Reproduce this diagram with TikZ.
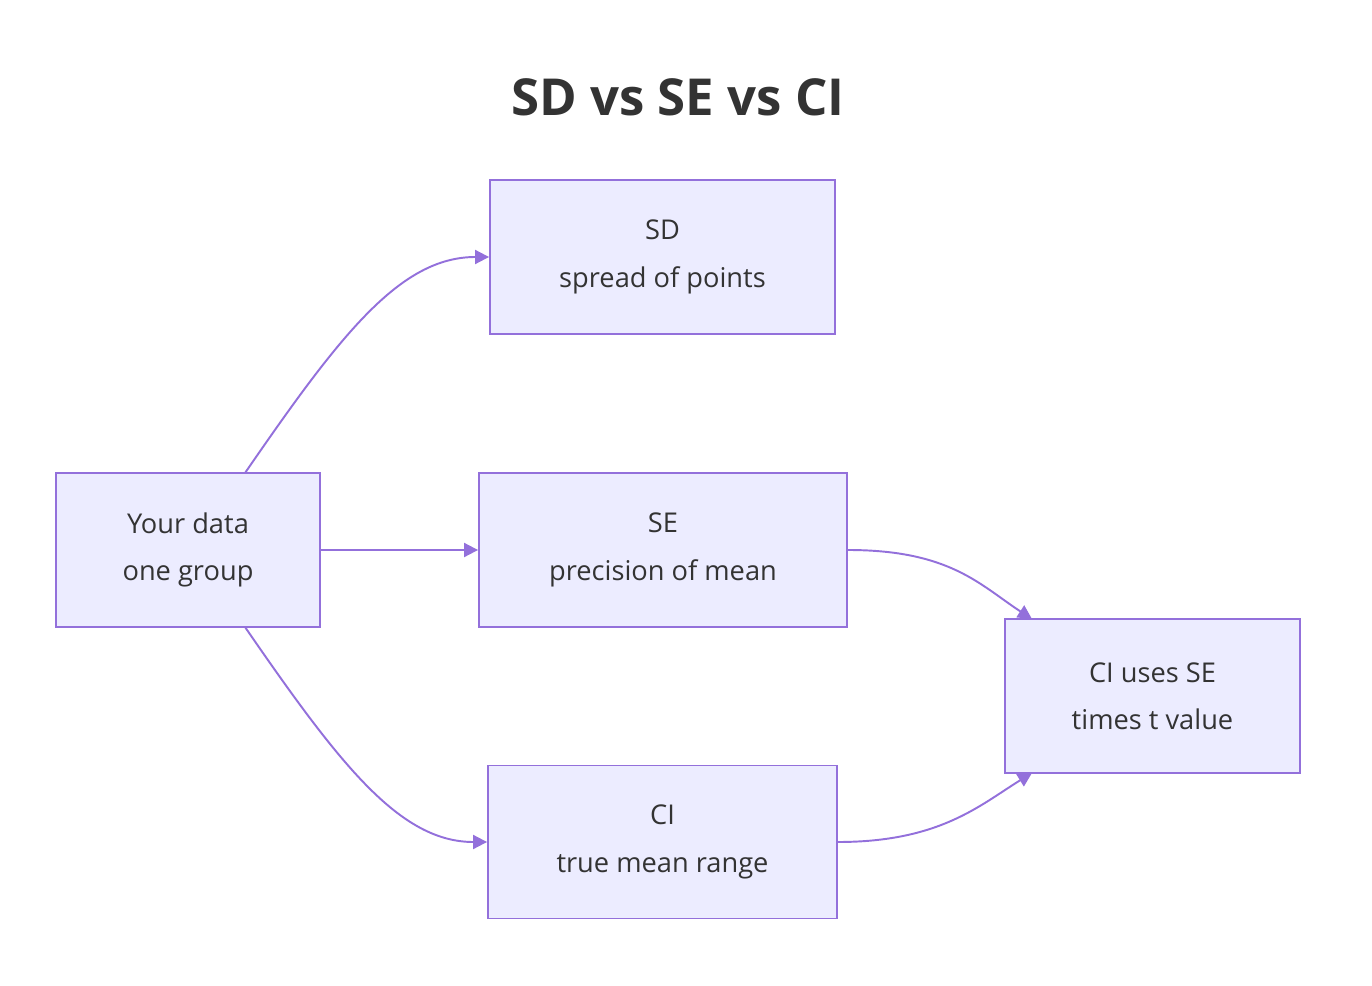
\documentclass[tikz,border=0pt]{standalone}
\usepackage{fontspec}
\setmainfont{Open Sans}
\usetikzlibrary{arrows.meta}
\definecolor{nfill}{HTML}{ECECFF}
\definecolor{nline}{HTML}{9370DB}
\definecolor{txt}{HTML}{333333}
\begin{document}
\begin{tikzpicture}[x=0.02cm,y=-0.02cm,
  box/.style={draw=nline,fill=nfill,line width=1.1pt,text=txt,align=center,font=\fontsize{15.5}{27}\selectfont,inner sep=0pt},
  edge/.style={draw=nline,line width=1.1pt,-{Triangle[length=8pt,width=8pt]}}]
\useasboundingbox (0,0) rectangle (1372,986);
\node[font=\bfseries\fontsize{29}{34}\selectfont,text=txt] (title) at (678,97) {SD vs SE vs CI};
\node[box,minimum width=264\pgflinewidth/1.1,minimum width=5.28cm,minimum height=3.08cm] (data) at (188,550) {Your data\\one group};
\node[box,minimum width=6.9cm,minimum height=3.08cm] (sd) at (662.5,257) {SD\\spread of points};
\node[box,minimum width=7.36cm,minimum height=3.08cm] (se) at (663,550) {SE\\precision of mean};
\node[box,minimum width=6.98cm,minimum height=3.06cm] (ci) at (662.5,842) {CI\\true mean range};
\node[box,minimum width=5.9cm,minimum height=3.08cm] (use) at (1152.5,696) {CI uses SE\\times t value};
\coordinate (dt) at (245,473);
\coordinate (db) at (245,627);
\coordinate (ut) at (1032,619);
\coordinate (ub) at (1032,773);
\draw[edge] (dt) .. controls (340,335) and (400,257) .. (sd.west);
\draw[edge] (db) .. controls (340,765) and (400,842) .. (ci.west);
\draw[edge] (data.east) -- (se.west);
\draw[edge] (se.east) .. controls (950,550) and (980,585) .. (ut);
\draw[edge] (ci.east) .. controls (940,842) and (980,805) .. (ub);
\end{tikzpicture}
\end{document}
